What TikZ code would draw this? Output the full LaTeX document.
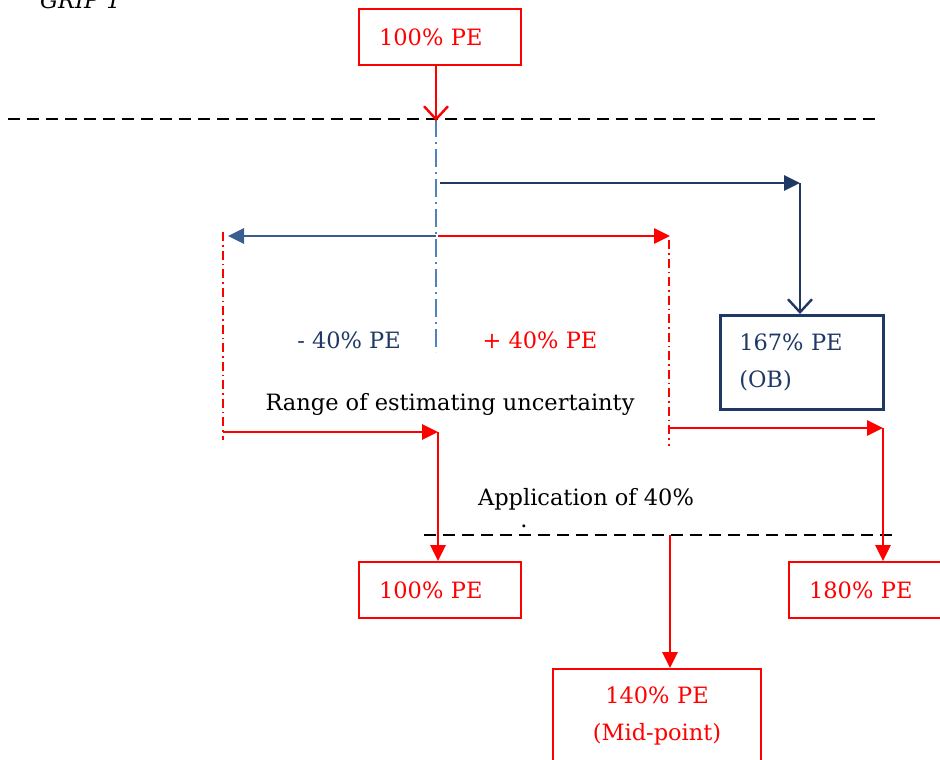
\documentclass[tikz,border=0pt]{standalone}
\usepackage{fontspec}
\setmainfont{DejaVu Serif}
\usetikzlibrary{arrows.meta}
\definecolor{navy}{RGB}{31,56,100}
\definecolor{axisblue}{RGB}{79,129,189}
\definecolor{leftblue}{RGB}{56,93,145}
\definecolor{pered}{RGB}{255,0,0}
\begin{document}
\begin{tikzpicture}[x=1pt,y=-1pt,
  lbl/.style={font=\fontsize{22.5}{37}\selectfont, inner sep=0pt},
  redbox/.style={draw=pered, line width=2.2pt, text=pered, lbl, align=left},
  navybox/.style={draw=navy, line width=2.5pt, text=navy, lbl, align=left},
  redline/.style={draw=pered, line width=2.8pt},
  navyline/.style={draw=navy, line width=2.8pt},
  blueline/.style={draw=leftblue, line width=2.8pt},
  fillhead/.style={-{Triangle[length=16pt,width=15pt]}},
  openhead/.style={-{Straight Barb[length=13pt,width=24pt,line width=2.4pt]}},
  blackdash/.style={draw=black, line width=2.6pt, dash pattern=on 12pt off 7pt},
  bluedashdot/.style={draw=axisblue, line width=2.6pt, dash pattern=on 18pt off 5pt on 2pt off 5pt},
  reddashdot/.style={draw=pered, line width=2pt, dash pattern=on 9pt off 4pt on 1.5pt off 4pt}
]
\useasboundingbox (0,0) rectangle (940,760);
\clip (0,0) rectangle (940,760);

% heading
\node[lbl, font=\fontsize{22.5}{30}\selectfont\itshape, anchor=base west] (grip) at (40,9) {GRIP 1};

% boxes
\node[redbox, anchor=north west, text width=122pt, inner xsep=20pt, minimum height=56pt] (top) at (358,8) {100\% PE};
\node[navybox, anchor=north west, text width=125pt, inner xsep=19pt, minimum height=94pt] (obox) at (719,314) {167\% PE\\(OB)};
\node[redbox, anchor=north west, text width=122pt, inner xsep=20pt, minimum height=56pt] (lbox) at (358,561) {100\% PE};
\node[redbox, anchor=north west, text width=160pt, inner xsep=20pt, minimum height=56pt] (rbox) at (788,561) {180\% PE};
\node[redbox, anchor=north, text width=168pt, inner xsep=20pt, inner ysep=18pt, align=center] (mbox) at (657,668) {140\% PE\\(Mid-point)\\\mbox{}};

% text labels
\node[lbl, text=navy, anchor=base] (minus) at (349,348) {- 40\% PE};
\node[lbl, text=pered, anchor=base] (plus) at (540,348) {+ 40\% PE};
\node[lbl, anchor=base] (range) at (450,410) {Range of estimating uncertainty};
\node[lbl, anchor=base] (appl) at (586,505) {Application of 40\%};
\node[lbl, anchor=base] (dot) at (524,527) {.};

% reference lines
\coordinate (d1l) at (8,119);
\coordinate (d1r) at (878,119);
\coordinate (d2l) at (424,535);
\coordinate (d2r) at (893,535);
\draw[blackdash] (d1l) -- (d1r);
\draw[blackdash] (d2l) -- (d2r);

% central axis and range limits
\coordinate (ax1) at (436,119);
\coordinate (ax2) at (436,352);
\coordinate (lim1a) at (223,232);
\coordinate (lim1b) at (223,440);
\coordinate (lim2a) at (669,240);
\coordinate (lim2b) at (669,446);
\draw[bluedashdot] (ax1) -- (ax2);
\draw[reddashdot] (lim1a) -- (lim1b);
\draw[reddashdot] (lim2a) -- (lim2b);

% 100% PE onto the axis
\draw[redline, openhead] (top.south -| ax1) -- ([yshift=-2pt]ax1);

% optimism bias path
\coordinate (n0) at (440,183);
\coordinate (nc) at (800,183);
\draw[navyline, fillhead] (n0) -- (nc);
\draw[navyline, openhead] (nc) -- (nc |- obox.north);

% +/- 40% spread
\coordinate (sl0) at (436,236);
\coordinate (sl1) at (228,236);
\coordinate (sr0) at (438,236);
\coordinate (sr1) at (670,236);
\draw[blueline, fillhead] (sl0) -- (sl1);
\draw[redline, fillhead] (sr0) -- (sr1);

% lower bound to 100% PE
\coordinate (lb0) at (223,432);
\coordinate (lb1) at (438,432);
\draw[redline, fillhead] (lb0) -- (lb1);
\draw[redline, fillhead] (lb1) -- (lb1 |- lbox.north);

% upper bound to 180% PE
\coordinate (ub0) at (669,428);
\coordinate (ub1) at (883,428);
\draw[redline, fillhead] (ub0) -- (ub1);
\draw[redline, fillhead] (ub1) -- (ub1 |- rbox.north);

% mid-point
\coordinate (mc) at (670,535);
\draw[redline, fillhead] (mc) -- (mc |- mbox.north);
\end{tikzpicture}
\end{document}
